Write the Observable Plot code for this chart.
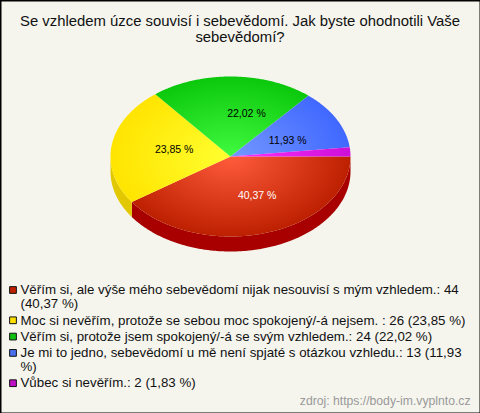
<!DOCTYPE html>
<html lang="cs">
<head>
<meta charset="utf-8">
<style>html,body{margin:0;padding:0;background:#f5f5ee}svg{display:block}</style>
<script src="https://cdn.jsdelivr.net/npm/d3@7"></script>
<script src="https://cdn.jsdelivr.net/npm/@observablehq/plot@0.6"></script>
</head>
<body>
<div id="chart"></div>
<script>
const titleLines = "Se vzhledem úzce souvisí i sebevědomí. Jak byste ohodnotili Vaše\nsebevědomí?";
const categories = [
  "Věřím si, ale výše mého sebevědomí nijak nesouvisí s mým vzhledem.",
  "Moc si nevěřím, protože se sebou moc spokojený/-á nejsem. ",
  "Věřím si, protože jsem spokojený/-á se svým vzhledem.",
  "Je mi to jedno, sebevědomí u mě není spjaté s otázkou vzhledu.",
  "Vůbec si nevěřím."
];
const counts = [44, 26, 24, 13, 2];
const shares = ["40,37", "23,85", "22,02", "11,93", "1,83"];
const legendBreaks = ["(40,37 %)", null, null, "%)", null];
const source = "zdroj: https://body-im.vyplnto.cz";

const swatchColors = ["#c02000", "#ffe000", "#10c010", "#4a70f0", "#c010c8"];
const gradientStops = [["#ff5c3c", "#bd2000"], ["#ffff30", "#ffe400"], ["#40fa40", "#0cc80c"], ["#7498ff", "#4068ff"], ["#ff30ff", "#cc10d8"]];
const sideColors = ["#a80000", "#e2c800", "#08a008", "#3050c0", "#a010a0"];
const labelColors = ["#fff", "#000", "#000", "#000", null];
const labelNudge = [[7, -3], [9, -1], [15, 1], [-1, 5], [0, 0]];

const bg = "#f5f5ee";
const W = 480, H = 413, cx = 230, cy = 156, rx = 120, ry = 80, depth = 15;
const total = d3.sum(counts);

const px = a => cx + rx * Math.cos(a), py = a => cy + ry * Math.sin(a);
let acc = 0;
const slices = counts.map((c, i) => {
  const a0 = acc / total * 2 * Math.PI; acc += c;
  return {i, a0, a1: acc / total * 2 * Math.PI};
});
const arc = (a0, a1) => {
  const n = Math.max(2, Math.ceil((a1 - a0) / 0.01));
  return d3.range(n + 1).map(k => a0 + (a1 - a0) * k / n);
};
const wedge = s => [{x: cx, y: cy}, ...arc(s.a0, s.a1).map(a => ({x: px(a), y: py(a)}))];
const wall = s => {
  const a1 = Math.min(s.a1, Math.PI);
  if (s.a0 >= Math.PI) return [];
  const t = arc(s.a0, a1);
  return [...t.map(a => ({x: px(a), y: py(a)})), ...t.reverse().map(a => ({x: px(a), y: py(a) + depth}))];
};

const defs = () => {
  const ns = "http://www.w3.org/2000/svg";
  const d = document.createElementNS(ns, "defs");
  gradientStops.forEach(([c0, c1], i) => {
    const g = document.createElementNS(ns, "radialGradient");
    g.setAttribute("id", "sl" + i);
    g.setAttribute("gradientUnits", "userSpaceOnUse");
    g.setAttribute("cx", 0); g.setAttribute("cy", 0); g.setAttribute("r", 1);
    g.setAttribute("gradientTransform", `translate(${cx},${cy}) scale(${rx},${ry})`);
    [[0, c0], [1, c1]].forEach(([o, c]) => {
      const st = document.createElementNS(ns, "stop");
      st.setAttribute("offset", o); st.setAttribute("stop-color", c);
      g.appendChild(st);
    });
    d.appendChild(g);
  });
  return d;
};

// legend layout: one row per text line, a swatch on each entry's first line
const legendLeft = 20, swatchLeft = 9, swatchRight = 16;
let ly = 289.5;
const legendRows = [];
const legendSwatches = [];
categories.forEach((c, i) => {
  const text = `${c}: ${counts[i]} (${shares[i]} %)`;
  const cut = legendBreaks[i] ? text.lastIndexOf(legendBreaks[i]) : text.length;
  legendSwatches.push({i, y: ly});
  legendRows.push({text: text.slice(0, cut).trimEnd(), y: ly});
  if (legendBreaks[i]) {
    ly += 14;
    legendRows.push({text: text.slice(cut), y: ly});
  }
  ly += 16.3;
});

const font = "'Liberation Sans', Arial, sans-serif";
const marks = [
  defs,
  ...slices.map(s => Plot.line(wall(s), {x: "x", y: "y", fill: sideColors[s.i], stroke: "none"})),
  ...slices.map(s => Plot.line(wedge(s), {x: "x", y: "y", fill: `url(#sl${s.i})`, stroke: "none"})),
  ...slices.filter(s => labelColors[s.i]).map(s => {
    const mid = (s.a0 + s.a1) / 2;
    return Plot.text([`${shares[s.i]} %`], {
      x: cx + 0.55 * rx * Math.cos(mid), y: cy + 0.55 * ry * Math.sin(mid),
      text: d => d, fill: labelColors[s.i], fontSize: 10.5,
      dx: labelNudge[s.i][0], dy: labelNudge[s.i][1]
    });
  }),
  Plot.text([titleLines], {x: W / 2 - 0.5, y: 28, text: d => d, fontSize: 14.87, fill: "#111", lineHeight: 1.08}),
  Plot.dot(legendSwatches, {x: (swatchLeft + swatchRight) / 2, y: "y", symbol: "square", r: 3.8,
    fill: d => swatchColors[d.i], stroke: "#111", strokeWidth: 1}),
  Plot.text(legendRows, {x: legendLeft, y: "y", text: "text", textAnchor: "start",
    fontSize: 13.3, fill: "#111"}),
  Plot.text([source], {x: 470, y: 401, text: d => d, textAnchor: "end", fontSize: 12.2, fill: "#999"}),
  Plot.frame({stroke: "#000", strokeWidth: 2})
];

const fig = Plot.plot({
  width: W, height: H, margin: 0,
  style: {background: bg, fontFamily: font},
  x: {domain: [0, W], range: [0, W], axis: null},
  y: {domain: [0, H], range: [0, H], axis: null},
  color: {type: "identity"},
  marks
});
document.getElementById("chart").appendChild(fig);
</script>
</body>
</html>
